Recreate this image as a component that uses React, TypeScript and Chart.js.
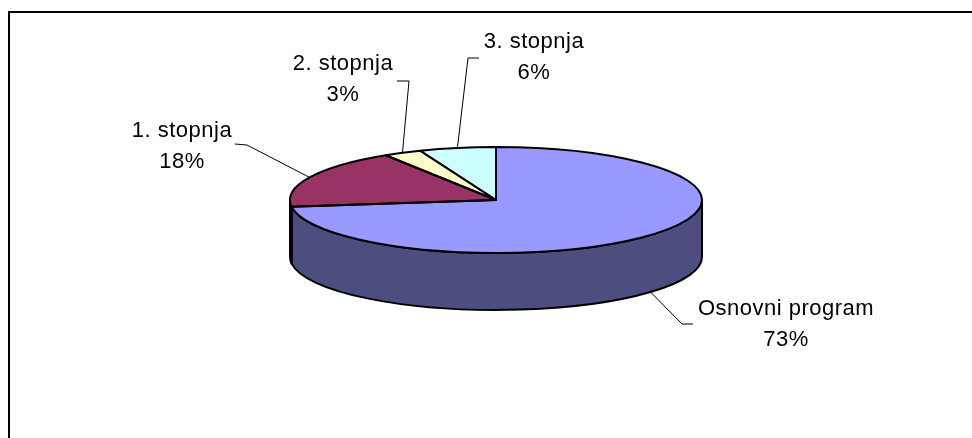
import React, { useEffect, useRef } from "react";
import { Chart, registerables } from "chart.js";

Chart.register(...registerables);

// ---- data ----
const categories = ["Osnovni program", "1. stopnja", "2. stopnja", "3. stopnja"];
const values = [73, 18, 3, 6];
const topColors = ["#9999FF", "#993366", "#FFFFCC", "#CCFFFF"];
const sideColors = ["#4D4D80", "#4D1A33", "#808066", "#668080"];

// ---- layout ----
const W = 972;
const H = 438;
const CX = 496;
const CY = 200;
const RX = 206;
const RY = 53;
const DEPTH = 57;
const FONT = '22px "Liberation Sans", Arial, sans-serif';
const LINE_GAP = 31;
// text center x, first baseline y, leader points (text side first)
const labelLayout = [
  { tx: 786, ty: 315, leader: [[693, 324], [682, 324]], front: true },
  { tx: 182, ty: 137, leader: [[235, 144], [247, 145]], front: false },
  { tx: 343, ty: 70, leader: [[397, 81], [409, 81]], front: false },
  { tx: 534, ty: 48, leader: [[479, 58], [468, 58]], front: false },
];

function arcAngles(arc: any) {
  const p = arc.getProps(["startAngle", "endAngle"], true);
  return [p.startAngle as number, p.endAngle as number];
}

const pie3d = {
  id: "pie3d",
  beforeDatasetsDraw(chart: any) {
    const ctx = chart.ctx as CanvasRenderingContext2D;
    const arcs = chart.getDatasetMeta(0).data;
    // side walls (front half only)
    arcs.forEach((arc: any, i: number) => {
      const [s, e] = arcAngles(arc);
      const a0 = Math.max(s, 0);
      const a1 = Math.min(e, Math.PI);
      if (a1 <= a0) return;
      ctx.beginPath();
      ctx.ellipse(CX, CY, RX, RY, 0, a0, a1, false);
      ctx.lineTo(CX + RX * Math.cos(a1), CY + DEPTH + RY * Math.sin(a1));
      ctx.ellipse(CX, CY + DEPTH, RX, RY, 0, a1, a0, true);
      ctx.closePath();
      ctx.fillStyle = sideColors[i];
      ctx.fill();
      ctx.lineWidth = 2;
      ctx.lineJoin = "round";
      ctx.strokeStyle = "#000";
      ctx.stroke();
    });
    // squash the library-drawn top face into an ellipse
    const g = arcs[0].getProps(["x", "y", "outerRadius"], true);
    ctx.save();
    ctx.translate(CX, CY);
    ctx.scale(RX / g.outerRadius, RY / g.outerRadius);
    ctx.translate(-g.x, -g.y);
  },
  afterDatasetsDraw(chart: any) {
    const ctx = chart.ctx as CanvasRenderingContext2D;
    ctx.restore();
    const arcs = chart.getDatasetMeta(0).data;
    ctx.lineWidth = 2;
    ctx.lineJoin = "round";
    ctx.strokeStyle = "#000";
    arcs.forEach((arc: any) => {
      const [s, e] = arcAngles(arc);
      ctx.beginPath();
      ctx.moveTo(CX, CY);
      ctx.ellipse(CX, CY, RX, RY, 0, s, e, false);
      ctx.closePath();
      ctx.stroke();
    });
  },
  afterDraw(chart: any) {
    const ctx = chart.ctx as CanvasRenderingContext2D;
    const arcs = chart.getDatasetMeta(0).data;
    const total = values.reduce((a, b) => a + b, 0);
    // frame
    ctx.fillStyle = "#000";
    ctx.fillRect(8, 11, W - 8, 2);
    ctx.fillRect(8, 11, 2, H - 11);
    // leaders + labels
    arcs.forEach((arc: any, i: number) => {
      const [s, e] = arcAngles(arc);
      const mid = (s + e) / 2;
      const L = labelLayout[i];
      const ax = CX + RX * Math.cos(mid);
      const ay = CY + RY * Math.sin(mid) + (L.front ? DEPTH : 0);
      ctx.beginPath();
      ctx.moveTo(L.leader[0][0], L.leader[0][1]);
      ctx.lineTo(L.leader[1][0], L.leader[1][1]);
      ctx.lineTo(ax, ay);
      ctx.lineWidth = 1;
      ctx.strokeStyle = "#000";
      ctx.stroke();

      ctx.font = FONT;
      (ctx as any).letterSpacing = "0.5px";
      ctx.textAlign = "center";
      ctx.textBaseline = "alphabetic";
      ctx.fillStyle = "#000";
      ctx.fillText(categories[i], L.tx, L.ty);
      ctx.fillText(Math.round((values[i] / total) * 100) + "%", L.tx, L.ty + LINE_GAP);
    });
  },
};

export default function App() {
  const ref = useRef<HTMLCanvasElement | null>(null);
  useEffect(() => {
    if (!ref.current) return;
    const chart = new Chart(ref.current, {
      type: "pie",
      data: {
        labels: categories,
        datasets: [
          {
            data: values,
            backgroundColor: topColors,
            borderWidth: 0,
            hoverOffset: 0,
          },
        ],
      },
      options: {
        responsive: false,
        animation: false,
        devicePixelRatio: 1,
        layout: { padding: { top: 13, bottom: 13, left: 290, right: 270 } },
        plugins: {
          legend: { display: false },
          tooltip: { enabled: false },
        },
        events: [],
      },
      plugins: [pie3d],
    });
    return () => chart.destroy();
  }, []);
  return (
    <div style={{ position: "fixed", left: 0, top: 0, width: W, height: H, background: "#fff" }}>
      <canvas ref={ref} width={W} height={H} style={{ display: "block" }} />
    </div>
  );
}
